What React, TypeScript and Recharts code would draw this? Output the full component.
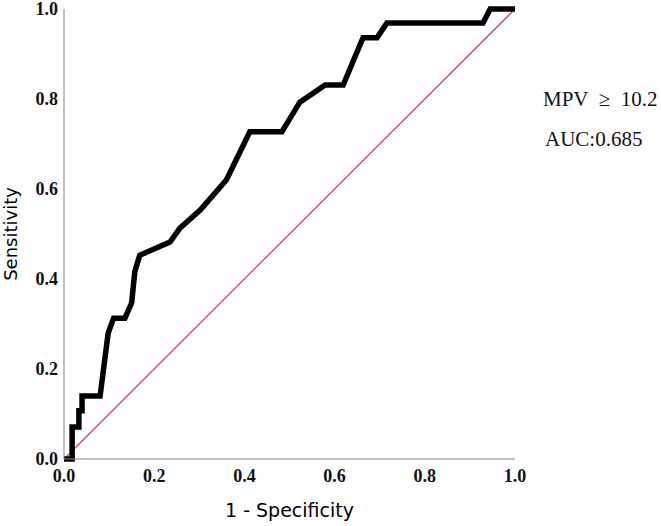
import { LineChart, Line, XAxis, YAxis, ReferenceLine } from 'recharts';

const fpr = [0, 0.018, 0.018, 0.033, 0.033, 0.04, 0.04, 0.08, 0.098, 0.11, 0.135, 0.15, 0.157, 0.168, 0.235, 0.257, 0.302, 0.36, 0.412, 0.483, 0.523, 0.579, 0.619, 0.663, 0.694, 0.716, 0.929, 0.945, 1.0];
const sensitivity = [0, 0, 0.071, 0.071, 0.107, 0.107, 0.14, 0.14, 0.28, 0.313, 0.313, 0.347, 0.416, 0.453, 0.482, 0.513, 0.553, 0.62, 0.727, 0.727, 0.793, 0.831, 0.831, 0.936, 0.936, 0.969, 0.969, 1.0, 1.0];
const axisTicks = [0, 0.2, 0.4, 0.6, 0.8, 1.0];
const annotation = ['MPV  \u2265  10.2', 'AUC:0.685'];

const rocData = fpr.map((x, i) => ({ fpr: x, sens: sensitivity[i] }));

const serif = '"Liberation Serif", "Times New Roman", serif';
const sans = '"DejaVu Sans", sans-serif';
const tickStyle = { fontFamily: serif, fontWeight: 700, fontSize: 18, fill: '#111' };
const fmt = (v: number) => v.toFixed(1);

export default function App() {
  return (
    <div style={{ position: 'absolute', left: 0, top: 0, width: 661, height: 526, background: '#fff' }}>
      <LineChart width={661} height={526} data={rocData} margin={{ top: 9, right: 146, left: 0, bottom: 0 }}>
        <XAxis
          type="number"
          dataKey="fpr"
          domain={[0, 1]}
          ticks={axisTicks}
          tickFormatter={fmt}
          tick={tickStyle}
          tickLine={false}
          tickSize={0}
          tickMargin={10}
          height={67}
          stroke="#808080"
          interval={0}
          label={{ value: '1 - Specificity', position: 'insideBottom', offset: 9, style: { fontFamily: sans, fontSize: 19, fill: '#000' } }}
        />
        <YAxis
          type="number"
          domain={[0, 1]}
          ticks={axisTicks}
          tickFormatter={fmt}
          tick={tickStyle}
          tickLine={false}
          tickSize={0}
          tickMargin={6}
          width={64}
          stroke="#808080"
          interval={0}
          label={{ value: 'Sensitivity', angle: -90, position: 'insideLeft', offset: 11, style: { fontFamily: sans, fontSize: 18, fill: '#000', textAnchor: 'middle' } }}
        />
        <ReferenceLine segment={[{ x: 0, y: 0 }, { x: 1, y: 1 }]} stroke="#c2496b" strokeWidth={1.3} ifOverflow="visible" />
        <Line
          type="linear"
          dataKey="sens"
          stroke="#000"
          strokeWidth={5.5}
          dot={false}
          isAnimationActive={false}
          strokeLinejoin="miter"
        />
      </LineChart>
      <div style={{ position: 'absolute', left: 543, top: 87, fontFamily: serif, fontSize: 21, color: '#111', whiteSpace: 'pre' }}>
        {annotation[0]}
      </div>
      <div style={{ position: 'absolute', left: 545, top: 127, fontFamily: serif, fontSize: 21, color: '#111' }}>
        {annotation[1]}
      </div>
    </div>
  );
}
